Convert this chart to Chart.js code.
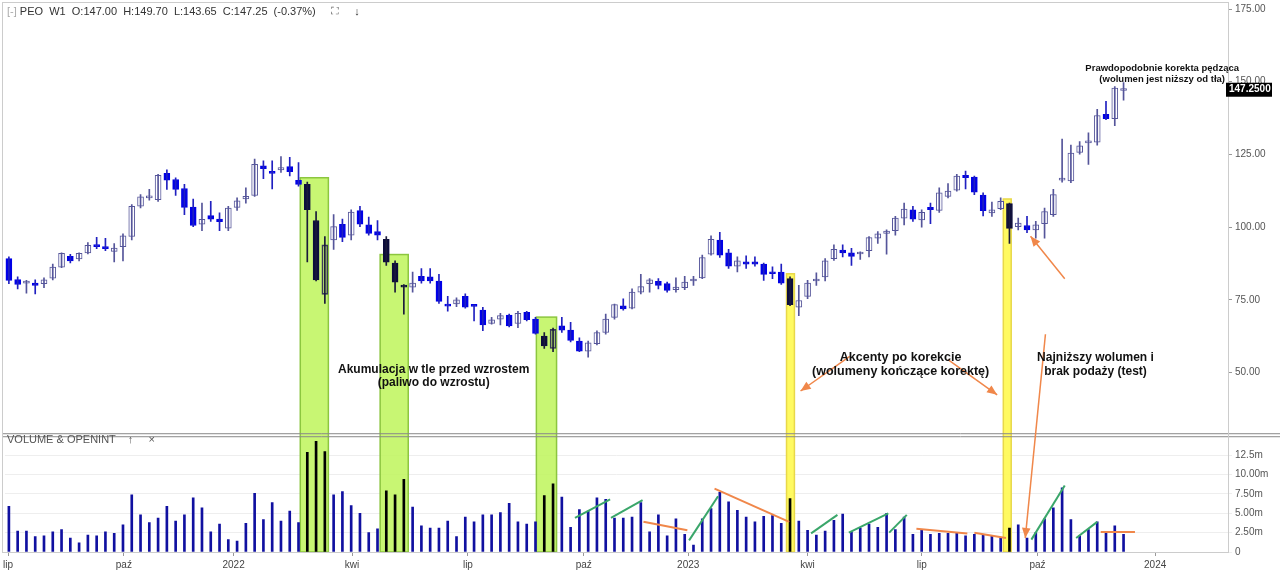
<!DOCTYPE html>
<html>
<head>
<meta charset="utf-8">
<script src="https://cdn.jsdelivr.net/npm/chart.js@4.4.0/dist/chart.umd.min.js"></script>
<style>
  body { margin: 0; background: #fff; font-family: 'Liberation Sans', Arial, sans-serif; }
  #wrap { position: relative; width: 1280px; height: 577px; }
  .hdr { position: absolute; font-size: 11px; color: #333; white-space: pre; }
</style>
</head>
<body>
<div id="wrap">
  <canvas id="chart" width="1280" height="577"></canvas>
  <div class="hdr" style="left:7px;top:5px;"><span style="color:#aaa">[-]</span> PEO  W1  O:147.00  H:149.70  L:143.65  C:147.25  (-0.37%)     <span style="color:#666">⛶</span>     ↓</div>
  <div class="hdr" style="left:7px;top:433px;color:#555">VOLUME &amp; OPENINT    ↑     ×</div>
</div>
<script>
// weekly candles PEO, Jul 2021 - Nov 2023
const opens = [89.2,82.0,80.8,80.8,80.6,82.5,86.3,90.0,89.1,91.2,93.8,93.3,91.7,93.3,96.8,107.2,110.1,109.5,118.5,116.4,113.3,106.9,101.0,104.0,102.8,99.7,106.8,109.7,110.9,121.1,119.1,119.7,120.8,116.1,114.7,102.3,76.9,95.6,101.0,97.3,105.7,100.8,98.5,95.8,87.7,80.1,79.4,83.1,82.9,81.5,73.4,73.6,76.2,73.3,71.5,66.9,68.4,69.8,66.9,70.7,68.4,62.6,58.3,66.1,64.6,60.9,57.4,60.0,63.8,69.0,73.0,72.2,77.7,80.6,81.4,80.6,78.5,79.2,81.5,82.6,90.7,95.6,91.2,86.6,88.1,88.1,87.3,84.6,84.6,82.3,72.5,76.2,81.5,82.9,89.2,92.1,91.2,90.8,91.9,96.2,97.9,98.8,103.1,106.0,102.5,106.8,105.8,110.6,112.7,117.8,117.2,111.0,104.9,106.4,108.1,100.2,100.6,99.1,101.2,104.3,116.2,115.9,125.7,129.0,129.2,138.8,137.3,147.0];
const highs = [89.8,82.9,81.7,81.9,82.6,87.3,91.2,90.7,91.2,94.7,96.5,96.2,94.4,97.7,107.8,111.2,113.0,118.2,119.7,117.0,114.7,109.7,108.3,108.9,104.9,107.2,110.1,113.5,123.4,122.8,122.8,124.3,124.0,122.2,115.5,105.4,96.8,104.3,102.8,106.0,107.2,103.5,102.3,96.8,88.4,80.3,84.6,85.8,85.8,83.8,76.2,75.7,77.1,73.3,72.5,69.0,70.4,70.1,71.1,71.1,69.0,63.8,65.3,69.0,67.3,62.0,60.9,64.4,70.1,73.6,75.4,78.8,83.8,82.3,82.3,81.1,82.6,83.1,83.1,90.4,97.0,98.2,92.4,89.8,90.2,89.8,87.7,86.4,87.3,82.9,80.0,81.7,84.3,89.2,93.9,93.9,92.7,91.5,96.8,98.5,99.1,103.7,108.3,107.2,106.0,108.3,113.5,115.0,118.2,119.3,117.6,111.8,108.6,110.1,108.3,103.1,103.7,102.0,106.6,113.0,130.3,128.2,129.4,132.4,140.5,143.3,148.3,149.7];
const lows = [80.6,78.8,77.3,77.1,79.2,81.9,86.1,87.7,88.4,90.8,92.6,91.9,88.1,88.4,95.6,106.6,109.3,108.9,113.0,110.9,104.3,100.2,98.8,102.0,98.8,98.8,105.8,108.3,110.6,116.7,113.2,118.8,117.6,114.1,88.1,81.5,73.8,92.4,95.0,95.6,100.2,97.3,95.6,86.9,77.7,70.1,77.7,80.8,80.8,73.8,71.1,72.7,72.2,67.8,64.4,66.7,66.4,65.7,65.5,67.8,63.2,58.3,57.2,63.8,60.6,57.2,55.3,59.5,63.2,68.4,71.5,71.9,77.1,77.7,78.8,77.7,77.7,78.5,80.0,82.3,90.4,89.6,85.8,84.6,85.8,86.6,81.7,82.3,80.3,73.0,69.6,75.4,80.0,81.5,88.6,89.8,86.9,88.9,89.8,94.4,90.7,97.3,100.8,102.0,100.0,101.2,105.1,110.1,112.4,113.2,111.2,103.9,103.7,106.0,94.4,99.1,98.1,96.2,96.2,103.7,115.5,115.3,125.1,121.6,128.2,137.0,134.9,143.65];
const closes = [81.7,80.3,81.5,80.0,81.9,86.3,91.0,88.4,91.0,93.8,93.3,92.6,92.8,97.0,107.2,110.4,110.6,117.8,116.2,113.0,106.8,100.6,102.7,102.8,101.9,106.6,109.1,110.6,121.6,120.1,118.5,120.5,119.1,114.7,106.0,81.9,93.9,100.2,96.5,105.2,101.0,97.9,97.3,88.0,81.1,79.4,80.8,81.5,81.5,74.5,72.9,75.0,72.5,72.8,66.4,68.2,69.6,66.1,70.4,68.2,63.5,59.2,64.9,64.6,61.1,57.4,60.3,63.8,68.4,73.4,71.9,77.7,79.6,81.9,80.0,78.3,79.4,81.1,81.7,89.6,95.8,90.4,86.6,88.4,87.3,87.3,83.8,84.0,80.8,73.4,74.8,80.8,81.7,88.4,92.4,91.2,90.0,91.0,96.4,97.7,98.7,103.1,106.2,102.8,105.1,106.0,111.8,112.4,117.6,117.0,112.0,105.7,106.0,108.9,99.6,101.4,99.1,100.8,105.4,111.2,116.5,125.5,128.0,129.4,138.4,137.3,147.8,147.25];
// volume in millions
const volumes = [5.9,2.7,2.7,2.0,2.1,2.6,2.9,1.8,1.2,2.2,2.1,2.6,2.4,3.5,7.4,4.8,3.8,4.4,5.9,4.0,4.8,7.0,5.7,2.6,3.6,1.6,1.4,3.7,7.6,4.2,6.4,4.0,5.3,3.8,12.9,14.3,13.0,7.4,7.8,6.0,5.0,2.5,3.0,7.9,7.4,9.4,5.8,3.4,3.1,3.1,4.0,2.0,4.5,3.9,4.8,4.8,5.1,6.3,3.9,3.6,3.9,7.3,8.8,7.1,3.2,5.5,5.3,7.0,6.8,4.4,4.4,4.5,6.4,2.6,4.8,2.1,4.3,2.3,0.9,4.3,5.6,7.7,6.5,5.4,4.5,3.9,4.6,4.7,3.7,6.9,4.0,2.8,2.2,2.7,4.1,4.9,2.6,3.1,3.6,3.2,5.0,2.9,4.5,2.3,2.9,2.3,2.4,2.4,2.4,2.1,2.3,2.3,2.1,1.8,3.1,3.5,1.8,2.5,4.3,5.7,8.3,4.2,2.1,2.9,3.9,2.4,3.4,2.3];
const highlighted = [34,35,36,43,44,45,61,62,89,114];
const tickPos = [-0.1,13.1,25.6,39.1,52.3,65.5,77.4,91.0,104.0,117.2,130.6];
const tickLabels = ['lip','paź','2022','kwi','lip','paź','2023','kwi','lip','paź','2024'];
const priceTicks = [50,75,100,125,150,175];
const volTicks = [0,2.5,5,7.5,10,12.5];
const volTickLabels = ['0','2.50m','5.00m','7.50m','10.00m','12.5m'];
// highlight boxes: [fromIndex, toIndex, topPrice, kind]
const boxes = [[33.2,36.4,117.0,'g'],[42.3,45.5,90.6,'g'],[60.1,62.4,69.1,'g'],[88.6,89.5,84.0,'y'],[113.3,114.2,109.7,'y']];
// volume trend lines [i1, v1, i2, v2, kind]
const trendLines = [[64.5,4.4,68.5,6.8,'g'],[68.6,4.4,72.2,6.7,'g'],[72.3,3.9,77.3,2.8,'o'],[77.5,1.5,80.8,7.2,'g'],[80.4,8.2,88.9,3.9,'o'],[91.4,2.4,94.4,4.8,'g'],[95.7,2.5,100.2,5.0,'g'],[100.3,2.5,102.3,4.8,'g'],[103.4,3.0,109.2,2.4,'o'],[110.0,2.5,113.6,1.8,'o'],[116.5,1.6,120.3,8.6,'g'],[121.6,1.8,124.0,3.9,'g'],[124.4,2.6,128.3,2.6,'o']];
// arrows [i1, v1, axis1, i2, v2, axis2]
const arrows = [[95.8,55.6,'y',90.2,43.7,'y'],[107.0,54.5,'y',112.6,42.4,'y'],[120.3,82.3,'y',116.4,96.9,'y'],[118.1,63.2,'y',115.8,1.8,'y2']];
// notes [index, price, text, size]
const notes = [[48.4,51.0,'Akumulacja w tle przed wzrostem',12],[48.4,46.5,'(paliwo do wzrostu)',12],
  [101.6,55.1,'Akcenty po korekcie',12.5],[101.6,50.3,'(wolumeny kończące korektę)',12.5],
  [123.8,55.1,'Najniższy wolumen i',12],[123.8,50.3,'brak podaży (test)',12],
  [131.4,154.6,'Prawdopodobnie korekta pędząca',9.5],[131.4,150.8,'(wolumen jest niższy od tła)',9.5]];

const isHi = i => highlighted.includes(i);
const bull = i => closes[i] >= opens[i];

const bodyData = opens.map((o, i) => ({x: i, y: [o, closes[i]]}));
const wickData = opens.map((o, i) => ({x: i, y: [lows[i], highs[i]]}));
const volData = volumes.map((v, i) => ({x: i, y: v}));

const trendSets = trendLines.map(t => ({
  type: 'line', yAxisID: 'y2',
  data: [{x: t[0], y: t[1]}, {x: t[2], y: t[3]}],
  borderColor: t[4] === 'g' ? '#3aa66a' : '#f0874a', borderWidth: 2,
  pointRadius: 0, tension: 0
}));

const overlay = {
  id: 'overlay',
  beforeDatasetsDraw(chart) {
    const {ctx, scales: {x, y, y2}} = chart;
    ctx.save();
    boxes.forEach(b => {
      const x1 = x.getPixelForValue(b[0]), x2 = x.getPixelForValue(b[1]);
      const top = y.getPixelForValue(b[2]), bot = y2.bottom;
      ctx.fillStyle = b[3] === 'g' ? 'rgba(190,245,90,0.85)' : 'rgba(255,250,80,0.9)';
      ctx.strokeStyle = b[3] === 'g' ? '#8cc63f' : '#e8d84a';
      ctx.lineWidth = 1.5;
      ctx.fillRect(x1, top, x2 - x1, bot - top);
      ctx.strokeRect(x1, top, x2 - x1, bot - top);
    });
    ctx.restore();
  },
  afterDatasetsDraw(chart) {
    const {ctx, scales} = chart;
    const {x, y, y2} = scales;
    ctx.save();
    // panel separator
    ctx.strokeStyle = '#888'; ctx.lineWidth = 1;
    ctx.beginPath();
    ctx.moveTo(2, y.bottom - 1.5); ctx.lineTo(y.right, y.bottom - 1.5);
    ctx.moveTo(2, y.bottom + 1.5); ctx.lineTo(y.right, y.bottom + 1.5);
    ctx.stroke();
    ctx.strokeStyle = '#ccc';
    ctx.strokeRect(2.5, 2.5, y.left - 2, y2.bottom - 2);
    // arrows
    ctx.strokeStyle = '#f0874a'; ctx.fillStyle = '#f0874a'; ctx.lineWidth = 1.5;
    arrows.forEach(a => {
      const x1 = x.getPixelForValue(a[0]), y1 = scales[a[2]].getPixelForValue(a[1]);
      const x2 = x.getPixelForValue(a[3]), yy2 = scales[a[5]].getPixelForValue(a[4]);
      ctx.beginPath(); ctx.moveTo(x1, y1); ctx.lineTo(x2, yy2); ctx.stroke();
      const ang = Math.atan2(yy2 - y1, x2 - x1);
      ctx.beginPath();
      ctx.moveTo(x2, yy2);
      ctx.lineTo(x2 - 11 * Math.cos(ang - 0.4), yy2 - 11 * Math.sin(ang - 0.4));
      ctx.lineTo(x2 - 11 * Math.cos(ang + 0.4), yy2 - 11 * Math.sin(ang + 0.4));
      ctx.closePath(); ctx.fill();
    });
    // notes
    ctx.fillStyle = '#111'; ctx.textAlign = 'center'; ctx.textBaseline = 'middle';
    notes.forEach(n => {
      ctx.font = 'bold ' + n[3] + "px 'Liberation Sans', Arial";
      ctx.fillText(n[2], x.getPixelForValue(n[0]), y.getPixelForValue(n[1]));
    });
    // last price label
    const py = y.getPixelForValue(147.25);
    ctx.fillStyle = '#000';
    ctx.fillRect(y.left - 2, py - 7, 46, 14);
    ctx.fillStyle = '#fff'; ctx.textAlign = 'left';
    ctx.font = "bold 10px 'Liberation Sans', Arial";
    ctx.fillText('147.2500', y.left + 1, py);
    ctx.restore();
  }
};

new Chart(document.getElementById('chart'), {
  type: 'bar',
  data: {
    datasets: [
      ...trendSets,
      {
        label: 'wick', yAxisID: 'y', data: wickData, grouped: false, barThickness: 1,
        backgroundColor: opens.map((o, i) => isHi(i) ? '#1a1a3a' : (bull(i) ? '#55559a' : '#2020c0'))
      },
      {
        label: 'body', yAxisID: 'y', data: bodyData, grouped: false, barThickness: 6,
        minBarLength: 2,
        backgroundColor: opens.map((o, i) => bull(i) ? (isHi(i) ? 'rgba(0,0,0,0)' : '#ffffff') : (isHi(i) ? '#0d0d3d' : '#0000e6')),
        borderColor: opens.map((o, i) => bull(i) ? (isHi(i) ? '#3a3a5a' : '#55559a') : (isHi(i) ? '#0d0d3d' : '#0000e6')),
        borderWidth: 1, borderSkipped: false
      },
      {
        label: 'volume', yAxisID: 'y2', data: volData, grouped: false, barThickness: 2,
        backgroundColor: volumes.map((v, i) => isHi(i) ? '#000000' : '#1010a0')
      }
    ]
  },
  options: {
    responsive: false,
    animation: false,
    layout: {padding: {left: 2, top: 0, right: 0, bottom: 0}},
    plugins: {legend: {display: false}, tooltip: {enabled: false}},
    scales: {
      x: {
        type: 'linear', min: -0.45, max: 138.9, offset: false,
        grid: {drawOnChartArea: false, tickLength: 4, color: '#999', offset: false},
        border: {color: '#999'},
        afterBuildTicks: s => { s.ticks = tickPos.map(v => ({value: v})); },
        ticks: {color: '#444', font: {size: 10, family: 'Liberation Sans'}, maxRotation: 0, autoSkip: false,
          callback: (v, i) => tickLabels[i]},
        afterFit: s => { s.height = 25; }
      },
      y: {
        position: 'right', stack: 'panels', stackWeight: 3.65, min: 28.5, max: 175,
        grid: {drawOnChartArea: false, tickLength: 4, color: '#999'},
        border: {color: '#999'},
        afterBuildTicks: s => { s.ticks = priceTicks.map(v => ({value: v})); },
        ticks: {color: '#555', font: {size: 10, family: 'Liberation Sans'}, autoSkip: false, callback: v => v.toFixed(2)},
        afterFit: s => { s.width = 52; }
      },
      y2: {
        position: 'right', stack: 'panels', stackWeight: 1, min: 0, max: 15.1,
        grid: {color: '#eeeeee', tickLength: 4},
        border: {color: '#999'},
        afterBuildTicks: s => { s.ticks = volTicks.map(v => ({value: v})); },
        ticks: {color: '#555', font: {size: 10, family: 'Liberation Sans'}, autoSkip: false,
          callback: (v, i) => volTickLabels[i]},
        afterFit: s => { s.width = 52; }
      }
    }
  },
  plugins: [overlay]
});
</script>
</body>
</html>
